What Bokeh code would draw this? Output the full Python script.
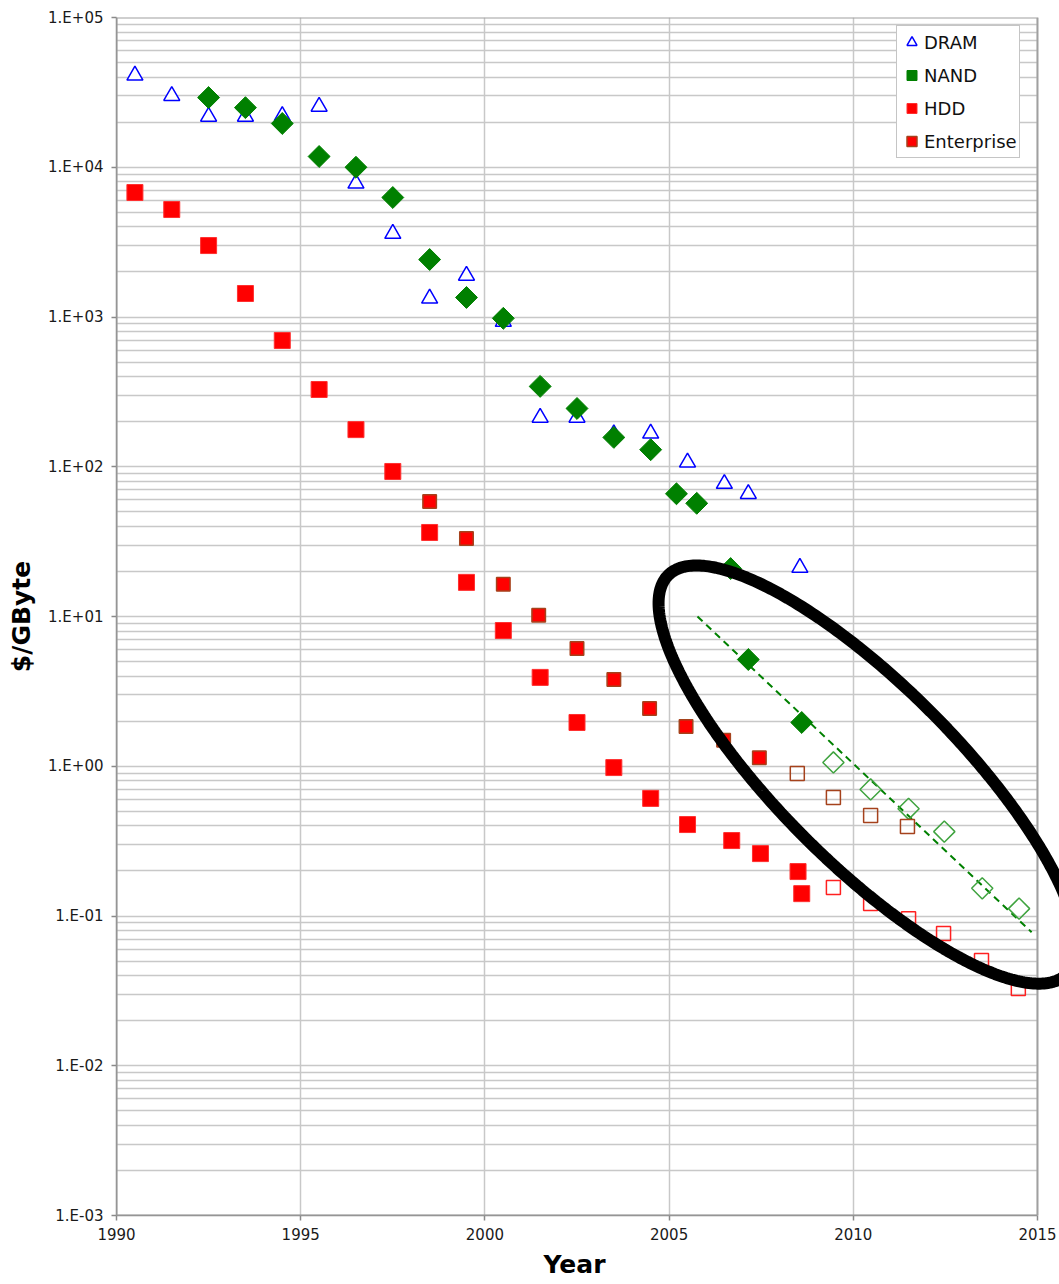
import numpy as np
from bokeh.plotting import figure
from bokeh.models import (Range1d, FixedTicker, CustomJSTickFormatter, Legend,
                          LegendItem, PolyAnnotation, BoxAnnotation, Title)
from bokeh.embed import file_html
from bokeh.resources import INLINE

# ---- price per GByte, by memory/storage type ----
DRAM_YEARS = [1990.5, 1991.5, 1992.5, 1993.5, 1994.5, 1995.5, 1996.5, 1997.5,
              1998.5, 1999.5, 2000.5, 2001.5, 2002.5, 2003.5, 2004.5, 2005.5,
              2006.5, 2007.15, 2008.55]
DRAM_PRICE = [41000, 30000, 21800, 21800, 22000, 25400, 7800, 3600,
              1330, 1890, 930, 213, 213, 165, 167, 107,
              77, 66, 21.2]

NAND_YEARS = [1992.5, 1993.5, 1994.5, 1995.5, 1996.5, 1997.5, 1998.5, 1999.5,
              2000.5, 2001.5, 2002.5, 2003.5, 2004.5, 2005.2, 2005.75, 2006.67,
              2007.15, 2008.6]
NAND_PRICE = [29200, 25000, 19600, 11800, 10000, 6280, 2420, 1350,
              980, 344, 245, 157, 130, 66, 57, 20.9,
              5.16, 1.96]

NAND_PROJ_YEARS = [2009.46, 2010.47, 2011.5, 2012.47, 2013.5, 2014.5]
NAND_PROJ_PRICE = [1.06, 0.70, 0.52, 0.366, 0.153, 0.112]

NAND_TREND_YEARS = [2005.77, 2014.84]
NAND_TREND_PRICE = [10.0, 0.078]

HDD_YEARS = [1990.5, 1991.5, 1992.5, 1993.5, 1994.5, 1995.5, 1996.5, 1997.5,
             1998.5, 1999.5, 2000.5, 2001.5, 2002.5, 2003.5, 2004.5, 2005.5,
             2006.7, 2007.48, 2008.5, 2008.6]
HDD_PRICE = [6780, 5220, 3000, 1435, 697, 328, 177, 93,
             36.4, 16.9, 8.06, 3.92, 1.96, 0.98, 0.61, 0.408,
             0.319, 0.261, 0.198, 0.141]

HDD_PROJ_YEARS = [2009.46, 2010.47, 2011.5, 2012.45, 2013.48, 2014.48]
HDD_PROJ_PRICE = [0.155, 0.121, 0.096, 0.0764, 0.0505, 0.0328]

ENT_YEARS = [1998.5, 1999.5, 2000.5, 2001.46, 2002.5, 2003.5, 2004.47,
             2005.46, 2006.48, 2007.45]
ENT_PRICE = [58.6, 33.2, 16.4, 10.2, 6.11, 3.80, 2.43, 1.84, 1.49, 1.14]

ENT_PROJ_YEARS = [2008.48, 2009.46, 2010.47, 2011.47]
ENT_PROJ_PRICE = [0.895, 0.618, 0.469, 0.396]

YEAR_TICKS = [1990, 1995, 2000, 2005, 2010, 2015]
DECADES = list(range(-3, 6))

# ---- layout ----
W, H = 1059, 1284
BORDER_L, BORDER_T, BORDER_B = 116, 17, 69
PLOT_RIGHT = 1037          # pixel column where the 2015 edge sits
X0, X1 = 1990, 2015
Y0, Y1 = 1e-3, 1e5

px_per_year = (PLOT_RIGHT - BORDER_L) / (X1 - X0)
px_per_decade = (H - BORDER_T - BORDER_B) / (np.log10(Y1) - np.log10(Y0))
# the frame runs to the canvas edge so the highlight ring can spill past 2015
X_END = X1 + (W - PLOT_RIGHT) / px_per_year

FONT = "DejaVu Sans"
GRID = "#c8c8c8"
AXIS = "#8a8a8a"
EDGE = "#a0a0a0"
TITLE_SIZE = "25px"

p = figure(width=W, height=H, output_backend="svg", toolbar_location=None,
           x_range=Range1d(X0, X_END), y_range=Range1d(Y0, Y1), y_axis_type="log",
           min_border_left=BORDER_L, min_border_right=0,
           min_border_top=BORDER_T, min_border_bottom=BORDER_B,
           background_fill_color="white", border_fill_color="white",
           outline_line_color=None)

# axes
p.xaxis.ticker = FixedTicker(ticks=YEAR_TICKS)
p.xaxis.bounds = (X0, X1)
p.yaxis.ticker = FixedTicker(
    ticks=[10.0 ** k for k in DECADES],
    minor_ticks=[m * 10.0 ** k for k in DECADES[:-1] for m in range(2, 10)])
p.yaxis.formatter = CustomJSTickFormatter(code="""
    const e = Math.round(Math.log10(tick));
    return "1.E" + (e < 0 ? "-" : "+") + String(Math.abs(e)).padStart(2, "0");
""")

for ax in (p.xaxis, p.yaxis):
    ax.axis_line_color = AXIS
    ax.axis_line_width = 1.5
    ax.major_tick_line_color = AXIS
    ax.major_tick_line_width = 1.5
    ax.major_tick_out = 5
    ax.major_tick_in = 0
    ax.minor_tick_line_color = None
    ax.major_label_text_font = FONT
    ax.major_label_text_font_size = "15px"
    ax.major_label_text_color = "#1a1a1a"
    ax.axis_label_text_font = FONT
    ax.axis_label_text_font_style = "bold"
    ax.axis_label_text_font_size = TITLE_SIZE
    ax.axis_label_text_color = "black"

p.yaxis.axis_label = "$/GByte"
p.xaxis.major_label_standoff = 7
p.yaxis.major_label_standoff = 8
p.yaxis.axis_label_standoff = 9

# x title, centred under the 1990-2015 span rather than the whole frame
year_title = Title(text="Year", align="left", offset=427, standoff=11,
                   text_font=FONT, text_font_size=TITLE_SIZE,
                   text_font_style="bold", text_color="black")
p.add_layout(year_title, "below")

# grid
p.xgrid.grid_line_color = GRID
p.xgrid.grid_line_width = 1.5
p.ygrid.grid_line_color = GRID
p.ygrid.grid_line_width = 1.5
p.ygrid.minor_grid_line_color = GRID
p.ygrid.minor_grid_line_width = 1.5

# series
r_dram = p.scatter(DRAM_YEARS, DRAM_PRICE, marker="triangle", size=16,
                   fill_color="white", line_color="#0000ff", line_width=1.5)
r_nand = p.scatter(NAND_YEARS, NAND_PRICE, marker="square", size=15.5,
                   angle=np.pi / 4, fill_color="#008000", line_color="#008000",
                   line_width=1)
r_hdd = p.scatter(HDD_YEARS, HDD_PRICE, marker="square", size=16,
                  fill_color="#ff0000", line_color="#ff3030", line_width=1)
r_ent = p.scatter(ENT_YEARS, ENT_PRICE, marker="square", size=13.5,
                  fill_color="#ff0000", line_color="#a5421c", line_width=1.5)

# projections
p.line(NAND_TREND_YEARS, NAND_TREND_PRICE, line_color="#008000",
       line_width=2, line_dash="7 5")
p.scatter(NAND_PROJ_YEARS, NAND_PROJ_PRICE, marker="square", size=15,
          angle=np.pi / 4, fill_color=None, line_color="#3fa33f", line_width=1.5)
p.scatter(HDD_PROJ_YEARS, HDD_PROJ_PRICE, marker="square", size=14,
          fill_color=None, line_color="#ff2020", line_width=1.5)
p.scatter(ENT_PROJ_YEARS, ENT_PROJ_PRICE, marker="square", size=14,
          fill_color=None, line_color="#a5421c", line_width=1.5)

# blank strip right of 2015, then the plot-area border
p.add_layout(BoxAnnotation(left=X1, fill_color="white", fill_alpha=1,
                           line_color=None))
p.add_layout(BoxAnnotation(left=X0, right=X1, bottom=Y0, top=Y1,
                           fill_color=None, fill_alpha=0,
                           line_color=EDGE, line_width=2, line_alpha=1))

# highlight ring around the projected region (sized in screen pixels)
ring_year, ring_price = 2010.39, 0.88
ring_a, ring_b, ring_tilt = 282.0, 89.0, np.deg2rad(45)
t = np.linspace(0, 2 * np.pi, 361)
dx = ring_a * np.cos(t) * np.cos(ring_tilt) - ring_b * np.sin(t) * np.sin(ring_tilt)
dy = ring_a * np.cos(t) * np.sin(ring_tilt) + ring_b * np.sin(t) * np.cos(ring_tilt)
ring_xs = ring_year + dx / px_per_year
ring_ys = 10 ** (np.log10(ring_price) - dy / px_per_decade)
p.add_layout(PolyAnnotation(xs=list(ring_xs), ys=list(ring_ys),
                            fill_color=None, fill_alpha=0,
                            line_color="black", line_width=12, line_alpha=1))

# legend
legend = Legend(items=[LegendItem(label="DRAM", renderers=[r_dram]),
                       LegendItem(label="NAND", renderers=[r_nand]),
                       LegendItem(label="HDD", renderers=[r_hdd]),
                       LegendItem(label="Enterprise", renderers=[r_ent])],
                location=(780, 1057),
                label_text_font=FONT, label_text_font_size="18px",
                label_text_color="#111111",
                glyph_width=25, glyph_height=28, label_height=28,
                label_standoff=0, spacing=5, padding=2, margin=0,
                border_line_color="#8c8c8c", border_line_width=1.5,
                background_fill_color="white", background_fill_alpha=1)
p.add_layout(legend)

open("out.html", "w").write(file_html(p, INLINE))
